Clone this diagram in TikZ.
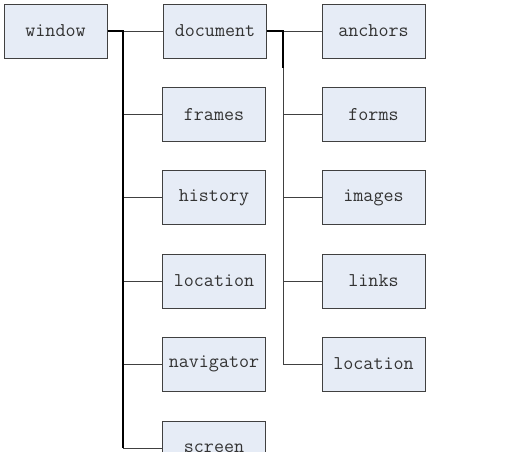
\documentclass[tikz,border=0pt]{standalone}
\begin{document}
\begin{tikzpicture}[x=1pt,y=-1pt,
  box/.style={draw=black!75,line width=1pt,fill=boxfill,minimum width=103pt,minimum height=54pt,inner sep=0pt,
    font=\fontsize{19.5}{21}\ttfamily,text=black!80},
  link/.style={draw=black!75,line width=1pt},
  thick link/.style={draw=black,line width=1.6pt}]
\definecolor{boxfill}{HTML}{E6ECF6}
\useasboundingbox (0,0) rectangle (514,451);
\begin{scope}
\clip (0,0) rectangle (514,451);
\node[box] (window) at (55.5,31) {window};
\node[box] (document) at (215,31) {document};
\node[box] (frames) at (214,114.5) {frames};
\node[box] (history) at (214,197.5) {history};
\node[box] (location) at (214,281) {location};
\node[box] (navigator) at (214,364) {navigator};
\node[box] (screen) at (214,448) {screen};
\node[box] (anchors) at (373.5,31) {anchors};
\node[box] (forms) at (373.5,114.5) {forms};
\node[box] (images) at (373.5,197.5) {images};
\node[box] (links) at (373.5,281) {links};
\node[box] (location2) at (373.5,364) {location};
\coordinate (t1) at (123,31);
\coordinate (t2) at (283,31);
\draw[link] (t1) -- (document.west);
\draw[link] (t1) |- (frames.west);
\draw[link] (t1) |- (history.west);
\draw[link] (t1) |- (location.west);
\draw[link] (t1) |- (navigator.west);
\draw[link] (t1) |- (screen.west);
\draw[thick link,line width=1.4pt] (window.east) -- (t1) -- (t1 |- screen.west);
\draw[link] (t2) -- (anchors.west);
\draw[link] (t2) |- (forms.west);
\draw[link] (t2) |- (images.west);
\draw[link] (t2) |- (links.west);
\draw[link] (t2) |- (location2.west);
\draw[thick link] (document.east) -- (t2) -- (283,68);
\end{scope}
\end{tikzpicture}
\end{document}
